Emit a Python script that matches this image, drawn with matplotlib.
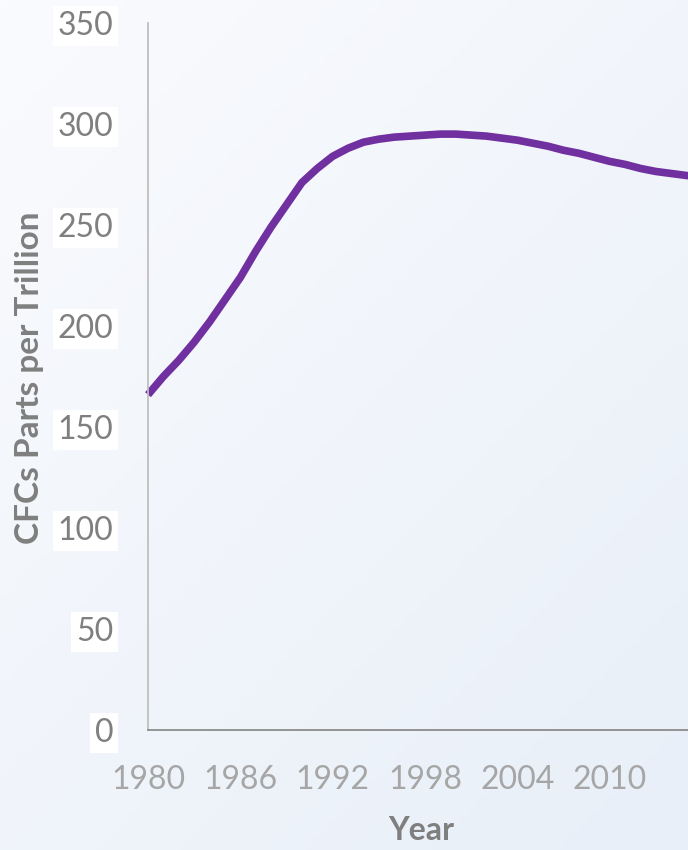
import matplotlib.pyplot as plt
import numpy as np

# CFC concentration by year (parts per trillion)
years = list(range(1980, 2017))
cfc_ppt = [166, 175, 183, 192, 202, 213, 224, 237, 249, 260,
           271, 278, 284, 288, 291, 292.5, 293.5, 294, 294.5, 295,
           295, 294.5, 294, 293, 292, 290.5, 289, 287, 285.5, 283.5,
           281.5, 280, 278, 276.5, 275.5, 274.5, 273.5]
x_ticks = list(range(1980, 2011, 6))
y_ticks = list(range(0, 351, 50))

plt.rcParams['font.family'] = ['Lato', 'DejaVu Sans']

fig = plt.figure(figsize=(6.88, 8.5), dpi=100)

# soft diagonal background wash
bg = fig.add_axes([0, 0, 1, 1], zorder=-1)
gx, gy = np.meshgrid(np.linspace(0, 1, 200), np.linspace(0, 1, 200))
t = (gx * 0.45 + gy * 0.55)[..., None]
c0 = np.array([250, 251, 254]) / 255
c1 = np.array([232, 239, 248]) / 255
bg.imshow(c0 + (c1 - c0) * t, aspect='auto', extent=[0, 1, 0, 1], origin='upper')
bg.set_axis_off()

ax = fig.add_axes([148 / 688, 120 / 850, 554 / 688, 707 / 850])
ax.patch.set_visible(False)
ax.plot(years, cfc_ppt, color='#7030A0', lw=5.5, solid_capstyle='butt',
        solid_joinstyle='round', clip_on=False)

ax.set_xlim(1980, 2016)
ax.set_ylim(0, 350)
ax.set_xticks(x_ticks)
ax.set_yticks(y_ticks)

for s in ['top', 'right']:
    ax.spines[s].set_visible(False)
ax.spines['left'].set_color('#bfbfbf')
ax.spines['left'].set_linewidth(1.3)
ax.spines['bottom'].set_color('#8c8c8c')
ax.spines['bottom'].set_linewidth(1.3)

ax.tick_params(axis='both', length=0)
ax.tick_params(axis='y', pad=25, labelsize=23, labelcolor='#7f7f7f')
ax.tick_params(axis='x', pad=25, labelsize=23, labelcolor='#a6a6a6')
for lbl in ax.get_yticklabels():
    lbl.set_bbox(dict(boxstyle='square,pad=0.15', fc='white', ec='none'))

fig.text(30 / 688, 1 - 378 / 850, 'CFCs Parts per Trillion', rotation=90,
         ha='center', va='center', fontsize=24, fontweight='bold', color='#7f7f7f')
fig.text(421 / 688, 1 - 830 / 850, 'Year', ha='center', va='center',
         fontsize=23, fontweight='bold', color='#7f7f7f')

fig.savefig('out.png', dpi=100)
